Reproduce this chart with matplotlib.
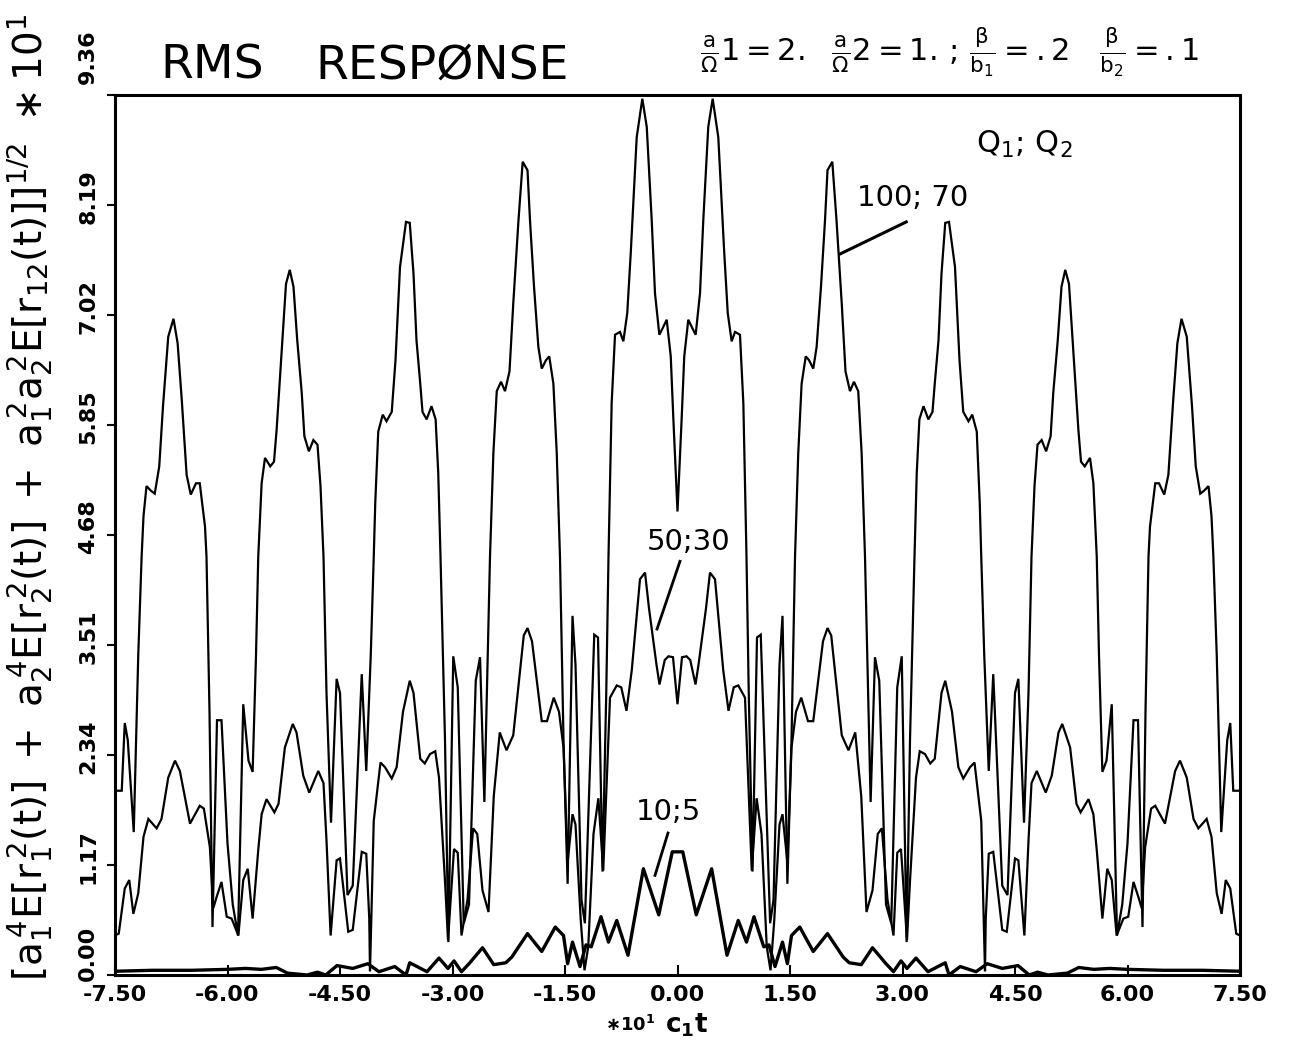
import matplotlib
matplotlib.use("Agg")
import matplotlib.pyplot as plt
import matplotlib.transforms as mtransforms
from matplotlib import font_manager as fm

# ---------------- data ----------------
xticks = [-7.5, -6.0, -4.5, -3.0, -1.5, 0.0, 1.5, 3.0, 4.5, 6.0, 7.5]
xtick_labels = ["-7.50", "-6.00", "-4.50", "-3.00", "-1.50", "0.00",
                "1.50", "3.00", "4.50", "6.00", "7.50"]
yticks = [0.0, 1.17, 2.34, 3.51, 4.68, 5.85, 7.02, 8.19, 9.36]
ytick_labels = ["0.00", "1.17", "2.34", "3.51", "4.68", "5.85", "7.02", "8.19", "9.36"]

# Q1;Q2 = 100;70
big_x = [-7.50, -7.41, -7.37, -7.33, -7.25, -7.19, -7.145, -7.12, -7.08, -7.02, -6.97, -6.91,
         -6.86, -6.79, -6.72, -6.665, -6.61, -6.545, -6.49, -6.42, -6.37, -6.30, -6.28, -6.24,
         -6.20, -6.14, -6.08, -6.00, -5.93, -5.86, -5.79, -5.72, -5.665, -5.62, -5.59, -5.545,
         -5.50, -5.43, -5.38, -5.345, -5.28, -5.22, -5.17, -5.12, -5.07, -5.01, -4.975, -4.915,
         -4.855, -4.80, -4.76, -4.72, -4.68, -4.62, -4.545, -4.50, -4.40, -4.33, -4.21, -4.15,
         -4.09, -4.05, -4.03, -3.99, -3.93, -3.88, -3.81, -3.76, -3.70, -3.62, -3.57, -3.52,
         -3.48, -3.43, -3.40, -3.345, -3.28, -3.225, -3.19, -3.16, -3.10, -3.055, -2.99, -2.93,
         -2.85, -2.78, -2.69, -2.633, -2.575, -2.50, -2.455, -2.41, -2.353, -2.30, -2.24, -2.19,
         -2.12, -2.064, -2.00, -1.967, -1.913, -1.855, -1.81, -1.753, -1.71, -1.655, -1.61, -1.567,
         -1.52, -1.465, -1.40, -1.36, -1.28, -1.235, -1.11, -1.06, -1.00, -0.95, -0.92, -0.878,
         -0.833, -0.767, -0.722, -0.67, -0.624, -0.544, -0.469, -0.41, -0.344, -0.30, -0.242, -0.198,
         -0.144, -0.09, -0.055, 0.00,
         0.055, 0.09, 0.144, 0.198, 0.242, 0.30, 0.344, 0.41, 0.469, 0.544, 0.624, 0.67,
         0.722, 0.767, 0.833, 0.878, 0.92, 0.95, 1.00, 1.06, 1.11, 1.235, 1.28, 1.36,
         1.40, 1.465, 1.52, 1.567, 1.61, 1.655, 1.71, 1.753, 1.81, 1.855, 1.913, 1.967,
         2.00, 2.064, 2.12, 2.19, 2.24, 2.30, 2.353, 2.41, 2.455, 2.50, 2.575, 2.633,
         2.69, 2.78, 2.85, 2.93, 2.99, 3.055, 3.10, 3.16, 3.19, 3.225, 3.28, 3.345,
         3.40, 3.43, 3.48, 3.52, 3.57, 3.62, 3.70, 3.76, 3.81, 3.88, 3.93, 3.99,
         4.03, 4.05, 4.09, 4.15, 4.21, 4.33, 4.40, 4.50, 4.545, 4.62, 4.68, 4.72,
         4.76, 4.80, 4.855, 4.915, 4.975, 5.01, 5.07, 5.12, 5.17, 5.22, 5.28, 5.345,
         5.38, 5.43, 5.50, 5.545, 5.59, 5.62, 5.665, 5.72, 5.79, 5.86, 5.93, 6.00,
         6.08, 6.14, 6.20, 6.24, 6.28, 6.30, 6.37, 6.42, 6.49, 6.545, 6.61, 6.665,
         6.72, 6.79, 6.86, 6.91, 6.97, 7.02, 7.08, 7.12, 7.145, 7.19, 7.25, 7.33,
         7.37, 7.41, 7.50]
big_y = [1.96, 1.96, 2.68, 2.50, 1.52, 3.40, 4.45, 4.88, 5.20, 5.15, 5.12, 5.41,
         6.05, 6.79, 6.98, 6.72, 6.12, 5.32, 5.11, 5.23, 5.23, 4.77, 4.45, 2.80,
         0.51, 2.71, 2.71, 1.40, 0.75, 0.42, 2.88, 2.28, 2.16, 3.40, 4.45, 5.23,
         5.50, 5.41, 5.46, 5.80, 6.61, 7.35, 7.50, 7.32, 6.75, 6.19, 5.73, 5.57,
         5.69, 5.64, 5.20, 4.45, 3.00, 1.62, 3.15, 3.00, 0.85, 0.95, 3.20, 2.17,
         3.40, 4.45, 5.02, 5.78, 5.96, 5.89, 5.99, 6.54, 7.53, 8.01, 8.00, 7.46,
         6.75, 6.29, 5.99, 5.91, 6.05, 5.91, 5.34, 4.45, 2.50, 0.35, 3.39, 3.06,
         0.55, 0.75, 3.13, 3.38, 1.84, 4.45, 5.55, 6.21, 6.31, 6.21, 6.42, 7.14,
         8.03, 8.65, 8.56, 8.03, 7.32, 6.68, 6.45, 6.54, 6.58, 6.29, 5.55, 4.45,
         2.50, 0.97, 3.82, 3.30, 0.80, 0.55, 3.62, 3.59, 1.10, 3.00, 4.45, 6.08,
         6.81, 6.84, 6.74, 7.04, 7.67, 8.91, 9.32, 9.02, 8.03, 7.25, 6.81, 6.88,
         6.97, 6.58, 5.91, 4.93,
         5.91, 6.58, 6.97, 6.88, 6.81, 7.25, 8.03, 9.02, 9.32, 8.91, 7.67, 7.04,
         6.74, 6.84, 6.81, 6.08, 4.45, 3.00, 1.10, 3.59, 3.62, 0.55, 0.80, 3.30,
         3.82, 0.97, 2.50, 4.45, 5.55, 6.29, 6.58, 6.54, 6.45, 6.68, 7.32, 8.03,
         8.56, 8.65, 8.03, 7.14, 6.42, 6.21, 6.31, 6.21, 5.55, 4.45, 1.84, 3.38,
         3.13, 0.75, 0.55, 3.06, 3.39, 0.35, 2.50, 4.45, 5.34, 5.91, 6.05, 5.91,
         5.99, 6.29, 6.75, 7.46, 8.00, 8.01, 7.53, 6.54, 5.99, 5.89, 5.96, 5.78,
         5.02, 4.45, 3.40, 2.17, 3.20, 0.95, 0.85, 3.00, 3.15, 1.62, 3.00, 4.45,
         5.20, 5.64, 5.69, 5.57, 5.73, 6.19, 6.75, 7.32, 7.50, 7.35, 6.61, 5.80,
         5.46, 5.41, 5.50, 5.23, 4.45, 3.40, 2.16, 2.28, 2.88, 0.42, 0.75, 1.40,
         2.71, 2.71, 0.51, 2.80, 4.45, 4.77, 5.23, 5.23, 5.11, 5.32, 6.12, 6.72,
         6.98, 6.79, 6.05, 5.41, 5.12, 5.15, 5.20, 4.88, 4.45, 3.40, 1.52, 2.50,
         2.68, 1.96, 1.96]

# Q1;Q2 = 50;30
mid_x = [-7.50, -7.45, -7.37, -7.31, -7.255, -7.19, -7.12, -7.055, -6.945, -6.88, -6.79, -6.70,
         -6.635, -6.50, -6.37, -6.315, -6.235, -6.19, -6.145, -6.08, -6.01, -5.945, -5.855, -5.79,
         -5.73, -5.665, -5.59, -5.545, -5.48, -5.375, -5.32, -5.235, -5.13, -5.08, -4.99, -4.91,
         -4.79, -4.72, -4.68, -4.625, -4.545, -4.50, -4.39, -4.33, -4.21, -4.15, -4.11, -4.10,
         -4.05, -3.96, -3.90, -3.81, -3.745, -3.66, -3.57, -3.52, -3.43, -3.37, -3.30, -3.23,
         -3.18, -3.10, -3.06, -2.98, -2.93, -2.88, -2.80, -2.725, -2.67, -2.60, -2.52, -2.45,
         -2.37, -2.28, -2.19, -2.05, -2.00, -1.94, -1.81, -1.74, -1.65, -1.58, -1.52, -1.465,
         -1.40, -1.36, -1.29, -1.24, -1.19, -1.12, -1.055, -0.99, -0.90, -0.81, -0.75, -0.68,
         -0.61, -0.50, -0.433, -0.38, -0.28, -0.24, -0.17, -0.12, -0.06, 0.00,
         0.06, 0.12, 0.17, 0.24, 0.28, 0.38, 0.433, 0.50, 0.61, 0.68, 0.75, 0.81,
         0.90, 0.99, 1.055, 1.12, 1.19, 1.24, 1.29, 1.36, 1.40, 1.465, 1.52, 1.58,
         1.65, 1.74, 1.81, 1.94, 2.00, 2.05, 2.19, 2.28, 2.37, 2.45, 2.52, 2.60,
         2.67, 2.725, 2.80, 2.88, 2.93, 2.98, 3.06, 3.10, 3.18, 3.23, 3.30, 3.37,
         3.43, 3.52, 3.57, 3.66, 3.745, 3.81, 3.90, 3.96, 4.05, 4.10, 4.11, 4.15,
         4.21, 4.33, 4.39, 4.50, 4.545, 4.625, 4.68, 4.72, 4.79, 4.91, 4.99, 5.08,
         5.13, 5.235, 5.32, 5.375, 5.48, 5.545, 5.59, 5.665, 5.73, 5.79, 5.855, 5.945,
         6.01, 6.08, 6.145, 6.19, 6.235, 6.315, 6.37, 6.50, 6.635, 6.70, 6.79, 6.88,
         6.945, 7.055, 7.12, 7.19, 7.255, 7.31, 7.37, 7.45, 7.50]
mid_y = [0.42, 0.44, 0.92, 1.01, 0.65, 0.87, 1.47, 1.66, 1.56, 1.66, 2.10, 2.28,
         2.17, 1.61, 1.80, 1.77, 1.36, 0.71, 0.83, 0.99, 0.62, 0.60, 0.42, 1.01,
         1.13, 0.60, 1.33, 1.71, 1.87, 1.73, 1.82, 2.42, 2.67, 2.58, 2.12, 1.94,
         2.17, 2.04, 1.43, 0.42, 1.22, 1.24, 0.46, 0.48, 1.31, 1.29, 0.60, 0.04,
         1.64, 2.26, 2.21, 2.09, 2.21, 2.80, 3.13, 3.00, 2.30, 2.25, 2.35, 2.38,
         2.10, 1.00, 0.37, 1.34, 1.30, 0.42, 0.80, 1.56, 1.50, 0.90, 0.67, 1.90,
         2.58, 2.39, 2.55, 3.61, 3.69, 3.55, 2.70, 2.70, 2.95, 2.80, 2.42, 1.20,
         1.71, 1.60, 0.58, 0.05, 0.30, 1.50, 1.88, 1.11, 2.95, 3.08, 3.06, 2.81,
         3.24, 4.21, 4.28, 3.90, 3.30, 3.09, 3.35, 3.39, 3.38, 2.88,
         3.38, 3.39, 3.35, 3.09, 3.30, 3.90, 4.28, 4.21, 3.24, 2.81, 3.06, 3.08,
         2.95, 1.11, 1.88, 1.50, 0.30, 0.05, 0.58, 1.60, 1.71, 1.20, 2.42, 2.80,
         2.95, 2.70, 2.70, 3.55, 3.69, 3.61, 2.55, 2.39, 2.58, 1.90, 0.67, 0.90,
         1.50, 1.56, 0.80, 0.42, 1.30, 1.34, 0.37, 1.00, 2.10, 2.38, 2.35, 2.25,
         2.30, 3.00, 3.13, 2.80, 2.21, 2.09, 2.21, 2.26, 1.64, 0.04, 0.60, 1.29,
         1.31, 0.48, 0.46, 1.24, 1.22, 0.42, 1.43, 2.04, 2.17, 1.94, 2.12, 2.58,
         2.67, 2.42, 1.82, 1.73, 1.87, 1.71, 1.33, 0.60, 1.13, 1.01, 0.42, 0.60,
         0.62, 0.99, 0.83, 0.71, 1.36, 1.77, 1.80, 1.61, 2.17, 2.28, 2.10, 1.66,
         1.56, 1.66, 1.47, 0.87, 0.65, 1.01, 0.92, 0.44, 0.42]

# Q1;Q2 = 10;5
low_x = [-7.50, -7.00, -6.48, -6.00, -5.76, -5.55, -5.35, -5.20, -4.94, -4.80, -4.69, -4.54,
         -4.33, -4.13, -3.98, -3.77, -3.62, -3.57, -3.34, -3.18, -3.06, -2.98, -2.88, -2.78,
         -2.60, -2.45, -2.29, -2.21, -2.00, -1.81, -1.63, -1.52, -1.465, -1.40, -1.30, -1.22,
         -1.15, -1.02, -0.92, -0.81, -0.66, -0.455, -0.25, -0.07, 0.00,
         0.07, 0.25, 0.455, 0.66, 0.81, 0.92, 1.02, 1.15, 1.22, 1.30, 1.40, 1.465,
         1.52, 1.63, 1.81, 2.00, 2.21, 2.29, 2.45, 2.60, 2.78, 2.88, 2.98, 3.06,
         3.18, 3.34, 3.57, 3.62, 3.77, 3.98, 4.13, 4.33, 4.54, 4.69, 4.80, 4.94,
         5.20, 5.35, 5.55, 5.76, 6.00, 6.48, 7.00, 7.50]
low_y = [0.04, 0.05, 0.05, 0.06, 0.07, 0.06, 0.08, 0.02, 0.00, 0.03, 0.00, 0.10,
         0.07, 0.12, 0.035, 0.09, 0.00, 0.13, 0.035, 0.18, 0.07, 0.15, 0.035, 0.12,
         0.29, 0.11, 0.13, 0.19, 0.44, 0.25, 0.51, 0.42, 0.12, 0.35, 0.09, 0.32,
         0.30, 0.62, 0.35, 0.58, 0.21, 1.13, 0.64, 1.31, 1.31,
         1.31, 0.64, 1.13, 0.21, 0.58, 0.35, 0.62, 0.30, 0.32, 0.09, 0.35, 0.12,
         0.42, 0.51, 0.25, 0.44, 0.19, 0.13, 0.11, 0.29, 0.12, 0.035, 0.15, 0.07,
         0.18, 0.035, 0.13, 0.00, 0.09, 0.035, 0.12, 0.07, 0.10, 0.00, 0.03, 0.00,
         0.02, 0.08, 0.06, 0.07, 0.06, 0.05, 0.05, 0.04]

# ---------------- fonts ----------------
plt.rcParams["mathtext.default"] = "regular"
names = {f.name for f in fm.fontManager.ttflist}
narrow = "Liberation Sans Narrow" if "Liberation Sans Narrow" in names else "DejaVu Sans"

# ---------------- figure ----------------
W, H = 1291, 1043
fig = plt.figure(figsize=(W / 100, H / 100), dpi=100)
ax = fig.add_axes([115 / W, 1 - 975 / H, 1125 / W, 880 / H])

ax.plot(big_x, big_y, color="black", lw=1.6, solid_joinstyle="miter")
ax.plot(mid_x, mid_y, color="black", lw=1.6, solid_joinstyle="miter")
ax.plot(low_x, low_y, color="black", lw=2.4)

ax.set_xlim(-7.5, 7.5)
ax.set_ylim(0.0, 9.36)
for s in ax.spines.values():
    s.set_linewidth(2.2)

ax.set_xticks(xticks)
ax.set_xticklabels(xtick_labels, fontsize=16, fontweight="bold")
ax.set_yticks(yticks)
ax.set_yticklabels(ytick_labels, fontsize=16, fontweight="bold", rotation=90, va="center")
ax.tick_params(axis="x", direction="in", length=7, width=1.5, pad=7)
ax.tick_params(axis="y", direction="out", length=6, width=1.5, pad=6)

# shift y tick labels slightly upward (bottom and top ones more)
shifts = [22, 8, 8, 8, 8, 8, 8, 8, 38]
for lab, dy in zip(ax.get_yticklabels(), shifts):
    lab.set_transform(lab.get_transform() +
                      mtransforms.ScaledTranslation(0, dy / 100, fig.dpi_scale_trans))

# axis label texts
fig.text(30 / W, 1 - 497 / H,
         r"$[a_1^{\,4}E[r_1^{\,2}(t)]\ +\ a_2^{\,4}E[r_2^{\,2}(t)]\ +\ "
         r"a_1^{\,2}a_2^{\,2}E[r_{12}(t)]]^{1/2}\ \ast10^{1}$",
         rotation=90, ha="center", va="center", fontsize=28)
fig.text(655 / W, 1 - 1025 / H, r"$\ast10^{1}$", ha="right", va="center",
         fontsize=13, fontweight="bold")
fig.text(665 / W, 1 - 1025 / H, r"$\mathbf{c_1t}$", ha="left", va="center", fontsize=19)

# title and parameters
fig.text(160 / W, 1 - 66 / H, "RMS", fontsize=34, family=narrow, va="center")
fig.text(315 / W, 1 - 66 / H, "RESPØNSE", fontsize=34, family=narrow, va="center")
fig.text(700 / W, 1 - 52 / H,
         r"$\frac{a}{\Omega}1 = 2.\ \ \frac{a}{\Omega}2 = 1.\,;\,\frac{\beta}{b_1}=.2\ \ \ "
         r"\frac{\beta}{b_2}=.1$",
         fontsize=22, ha="left", va="center")

# curve labels
ax.text(4.63, 8.83, r"Q$_1$; Q$_2$", fontsize=22, ha="center", va="center")
ax.text(2.39, 8.26, "100; 70", fontsize=21, ha="left", va="center", family=narrow)
ax.plot([3.05, 2.17], [8.01, 7.67], color="black", lw=2.2)
ax.text(-0.41, 4.61, "50;30", fontsize=21, ha="left", va="center", family=narrow)
ax.plot([0.033, -0.273], [4.40, 3.68], color="black", lw=2.0)
ax.text(-0.553, 1.73, "10;5", fontsize=21, ha="left", va="center", family=narrow)
ax.plot([-0.127, -0.30], [1.51, 1.06], color="black", lw=2.0)

fig.savefig("out.png", dpi=100)
